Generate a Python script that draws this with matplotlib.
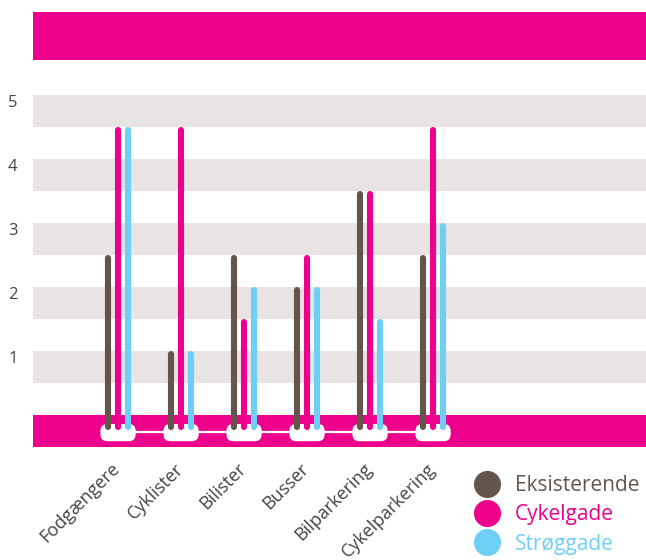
import matplotlib
matplotlib.use('Agg')
import matplotlib.pyplot as plt
from matplotlib.lines import Line2D
from matplotlib.patches import FancyBboxPatch
from matplotlib.transforms import ScaledTranslation

plt.rcParams['font.family'] = ['Open Sans', 'DejaVu Sans']

# Data
categories = ['Fodgængere', 'Cyklister', 'Bilister', 'Busser', 'Bilparkering', 'Cykelparkering']
series_names = ['Eksisterende', 'Cykelgade', 'Strøggade']
eksisterende = [2.5, 1, 2.5, 2, 3.5, 2.5]
cykelgade = [4.5, 4.5, 1.5, 2.5, 3.5, 4.5]
stroggade = [4.5, 1, 2, 2, 1.5, 3]
y_ticks = [1, 2, 3, 4, 5]

colors = ['#63554a', '#ec008c', '#6dcff6']
band_color = '#e8e4e3'
text_color = '#444444'

fig = plt.figure(figsize=(6.46, 5.6), dpi=100)
ax = fig.add_axes([33 / 646, 1 - 447 / 560, 613 / 646, 435 / 560])
ax.set_xlim(-1.35, 8.38)
ax.set_ylim(-0.5, 6.3)

# background bands
for k in y_ticks:
    ax.axhspan(k - 0.5, k, color=band_color, lw=0, zorder=0)
ax.axhspan(5.55, 6.3, color=colors[1], lw=0, zorder=0)
ax.axhspan(-0.5, 0, color=colors[1], lw=0, zorder=1)

# white connector and blobs at the foot of each group
n = len(categories)
ax.plot([0, n - 1], [-0.26, -0.26], color='white', lw=1.6, zorder=2)
for i in range(n):
    ax.add_patch(FancyBboxPatch((i - 0.24, -0.37), 0.48, 0.19,
                                boxstyle='round,pad=0.04,rounding_size=0.11',
                                fc='white', ec='none', zorder=3))

# bars as rounded thin lines (cap pulled back so the tip sits on the value)
offsets = [-0.16, 0, 0.16]
base = -0.18
cap = 0.045
for series, off, c in zip([eksisterende, cykelgade, stroggade], offsets, colors):
    for i, v in enumerate(series):
        ax.plot([i + off, i + off], [base, v - cap], color=c, lw=4.4,
                solid_capstyle='round', zorder=4)

for s in ax.spines.values():
    s.set_visible(False)

ax.set_yticks(y_ticks)
ax.set_yticklabels([str(t) for t in y_ticks], fontsize=12, color=text_color, va='top')
ax.tick_params(axis='y', length=0, pad=11)
ax.set_xticks(range(n))
ax.set_xticklabels(categories, rotation=45, ha='right', va='top', rotation_mode='anchor',
                   fontsize=13, color=text_color)
ax.tick_params(axis='x', length=0, pad=9)
shift = ScaledTranslation(-0.07, 0, fig.dpi_scale_trans)
for lbl in ax.get_xticklabels():
    lbl.set_transform(lbl.get_transform() + shift)

handles = [Line2D([], [], marker='o', ls='none', markersize=19.5, color=c,
                  markerfacecolor=c, markeredgewidth=0) for c in colors]
fig.legend(handles, series_names, loc='upper left',
           bbox_to_anchor=(473 / 646, 1 - 475 / 560), frameon=False,
           fontsize=15, labelcolor='markerfacecolor', handlelength=1.3,
           handletextpad=0.7, labelspacing=0.4, borderaxespad=0, borderpad=0)

fig.savefig('out.png', dpi=100)
